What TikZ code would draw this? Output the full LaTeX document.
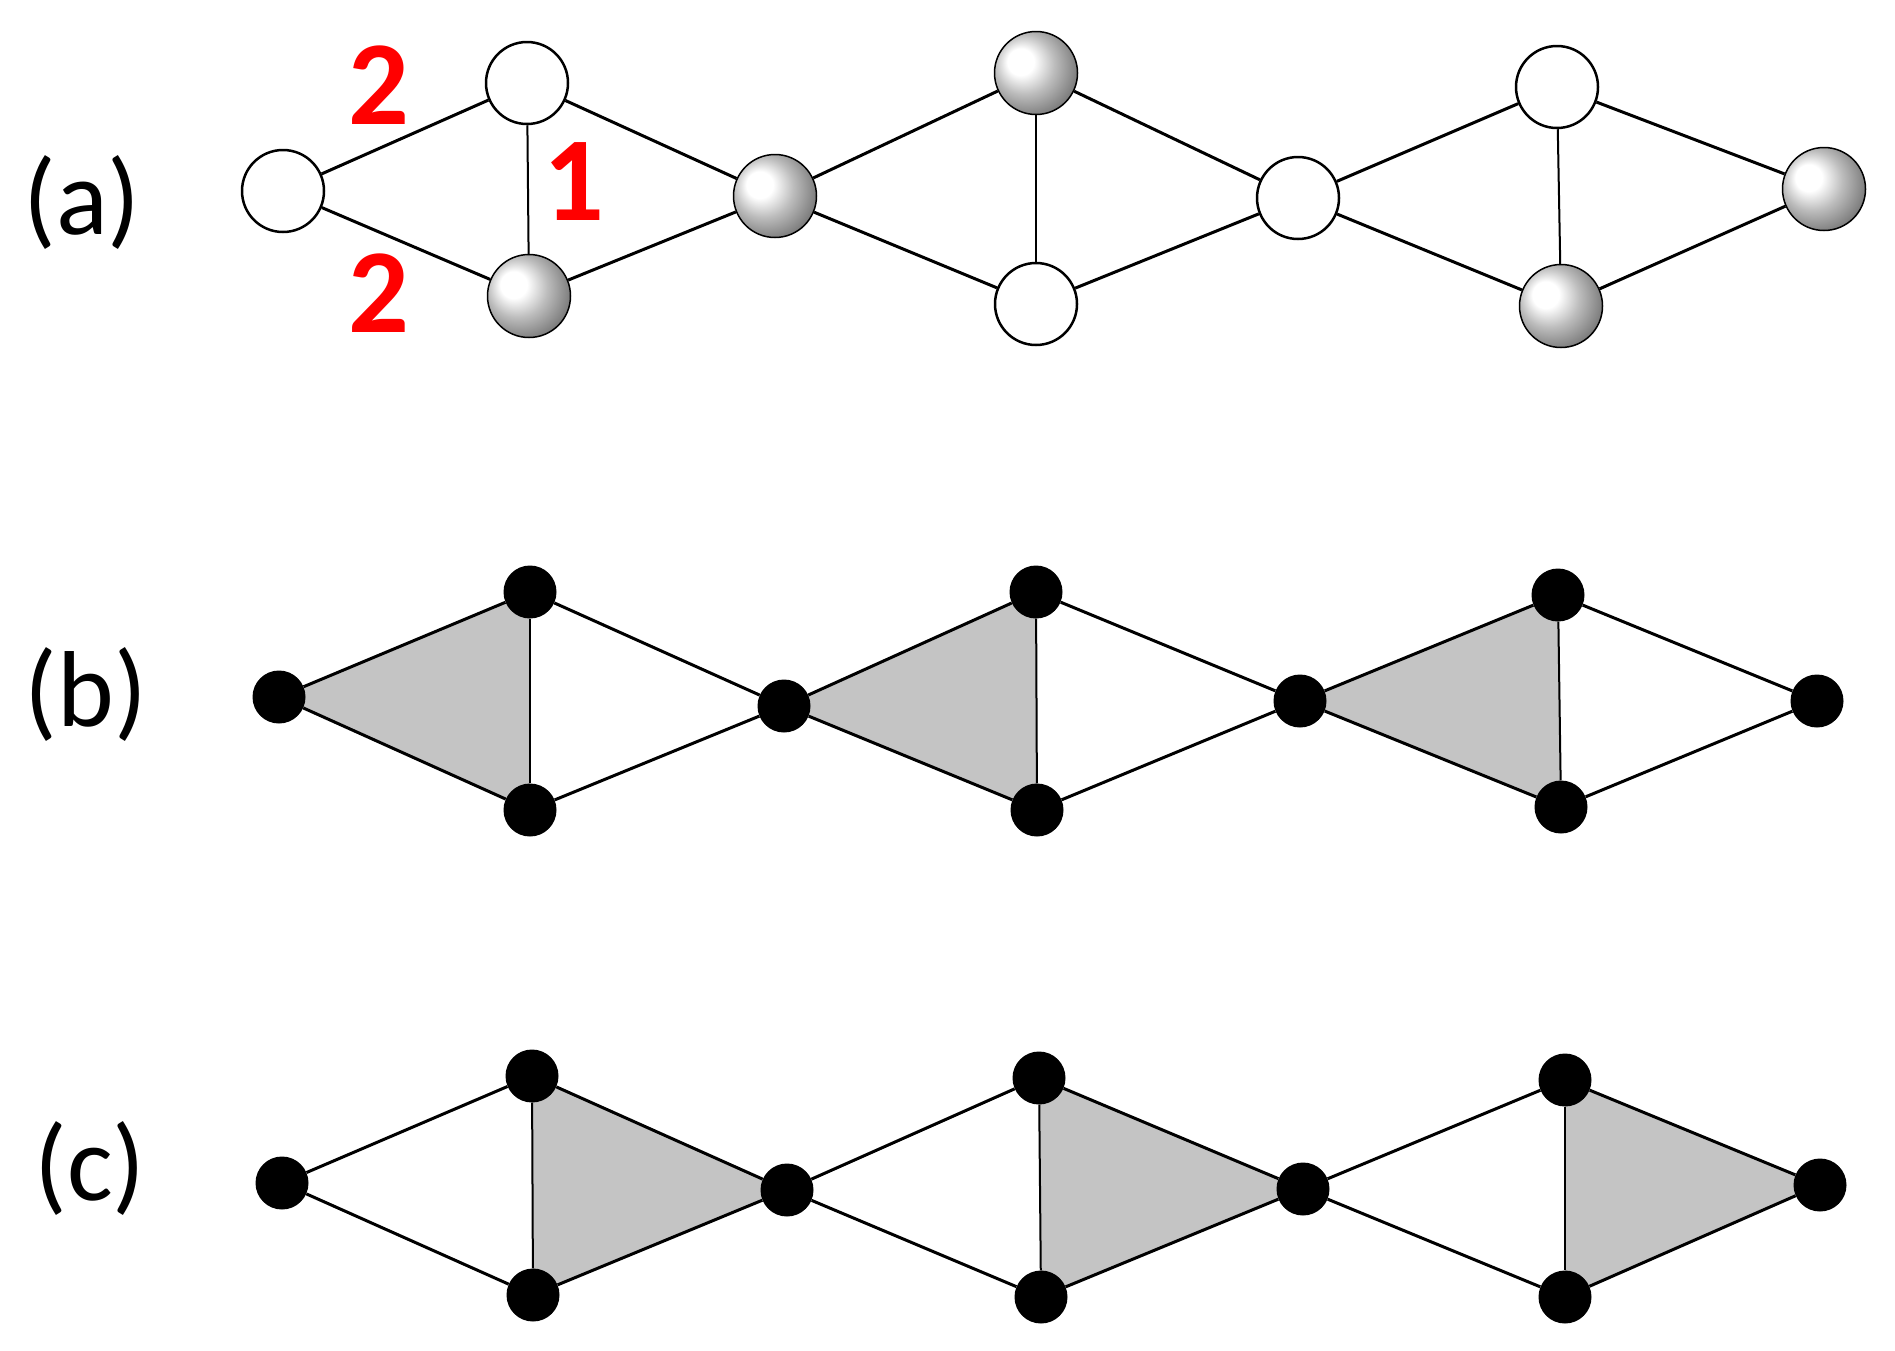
\documentclass[tikz,border=0pt]{standalone}
\usepackage{fontspec}
\setmainfont{Carlito}
\usetikzlibrary{backgrounds}
\definecolor{trigray}{RGB}{196,196,196}
\pgfdeclareradialshading{myball}{\pgfpoint{-11bp}{8bp}}{color(0bp)=(white); color(8bp)=(white); color(18bp)=(black!26); color(30bp)=(black!52); color(41bp)=(black!82); color(50bp)=(black)}
\begin{document}
\begin{tikzpicture}[x=1pt,y=-1pt,
  wnode/.style={circle, draw, line width=2.5pt, fill=white, minimum size=82pt, inner sep=0pt},
  snode/.style={circle, shading=myball, draw=black, line width=1.5pt, minimum size=83pt, inner sep=0pt},
  dot/.style={circle, fill=black, minimum size=53pt, inner sep=0pt},
  edge/.style={line width=3pt},
  vedge/.style={line width=2pt},
  lab/.style={font=\fontsize{108}{112}\selectfont, inner sep=0pt},
  num/.style={text=red, font=\fontsize{120}{124}\selectfont\bfseries, inner sep=0pt},
  tri/.style={fill=trigray}]
\useasboundingbox (0,0) rectangle (1895,1350);

% ---------- (a) ----------
\node[lab] (la) at (82,202) {(a)};
\node[wnode] (a1) at (283,191) {};
\node[wnode] (a2) at (527,83) {};
\node[snode] (a3) at (529,296) {};
\node[snode] (a4) at (775,196) {};
\node[snode] (a5) at (1036,73) {};
\node[wnode] (a6) at (1036,304) {};
\node[wnode] (a7) at (1298,198) {};
\node[wnode] (a8) at (1557,87) {};
\node[snode] (a9) at (1561,306) {};
\node[snode] (a10) at (1824,189) {};
\draw[edge] (a1) -- (a2) (a1) -- (a3) (a2) -- (a4) (a3) -- (a4);
\draw[vedge] (a2) -- (a3);
\draw[edge] (a4) -- (a5) (a4) -- (a6) (a5) -- (a7) (a6) -- (a7);
\draw[vedge] (a5) -- (a6);
\draw[edge] (a7) -- (a8) (a7) -- (a9) (a8) -- (a10) (a9) -- (a10);
\draw[vedge] (a8) -- (a9);
\node[num] (n1) at (379,85) {2};
\node[num] (n2) at (574,182) {1};
\node[num] (n3) at (379,293) {2};

% ---------- (b) ----------
\node[lab] (lb) at (86,694) {(b)};
\node[dot] (b1) at (279,697) {};
\node[dot] (b2) at (530,592) {};
\node[dot] (b3) at (530,810) {};
\node[dot] (b4) at (784,706) {};
\node[dot] (b5) at (1036,592) {};
\node[dot] (b6) at (1037,810) {};
\node[dot] (b7) at (1300,701) {};
\node[dot] (b8) at (1558,595) {};
\node[dot] (b9) at (1561,807) {};
\node[dot] (b10) at (1817,701) {};
\begin{scope}[on background layer]
\fill[tri] (b1.center) -- (b2.center) -- (b3.center) -- cycle;
\fill[tri] (b4.center) -- (b5.center) -- (b6.center) -- cycle;
\fill[tri] (b7.center) -- (b8.center) -- (b9.center) -- cycle;
\end{scope}
\draw[edge] (b1) -- (b2) (b1) -- (b3) (b2) -- (b4) (b3) -- (b4);
\draw[vedge] (b2) -- (b3);
\draw[edge] (b4) -- (b5) (b4) -- (b6) (b5) -- (b7) (b6) -- (b7);
\draw[vedge] (b5) -- (b6);
\draw[edge] (b7) -- (b8) (b7) -- (b9) (b8) -- (b10) (b9) -- (b10);
\draw[vedge] (b8) -- (b9);

% ---------- (c) ----------
\node[lab] (lc) at (90,1168) {(c)};
\node[dot] (c1) at (282,1183) {};
\node[dot] (c2) at (532,1076) {};
\node[dot] (c3) at (533,1295) {};
\node[dot] (c4) at (787,1190) {};
\node[dot] (c5) at (1039,1078) {};
\node[dot] (c6) at (1041,1297) {};
\node[dot] (c7) at (1303,1189) {};
\node[dot] (c8) at (1565,1080) {};
\node[dot] (c9) at (1565,1297) {};
\node[dot] (c10) at (1820,1185) {};
\begin{scope}[on background layer]
\fill[tri] (c2.center) -- (c3.center) -- (c4.center) -- cycle;
\fill[tri] (c5.center) -- (c6.center) -- (c7.center) -- cycle;
\fill[tri] (c8.center) -- (c9.center) -- (c10.center) -- cycle;
\end{scope}
\draw[edge] (c1) -- (c2) (c1) -- (c3) (c2) -- (c4) (c3) -- (c4);
\draw[vedge] (c2) -- (c3);
\draw[edge] (c4) -- (c5) (c4) -- (c6) (c5) -- (c7) (c6) -- (c7);
\draw[vedge] (c5) -- (c6);
\draw[edge] (c7) -- (c8) (c7) -- (c9) (c8) -- (c10) (c9) -- (c10);
\draw[vedge] (c8) -- (c9);
\end{tikzpicture}
\end{document}
